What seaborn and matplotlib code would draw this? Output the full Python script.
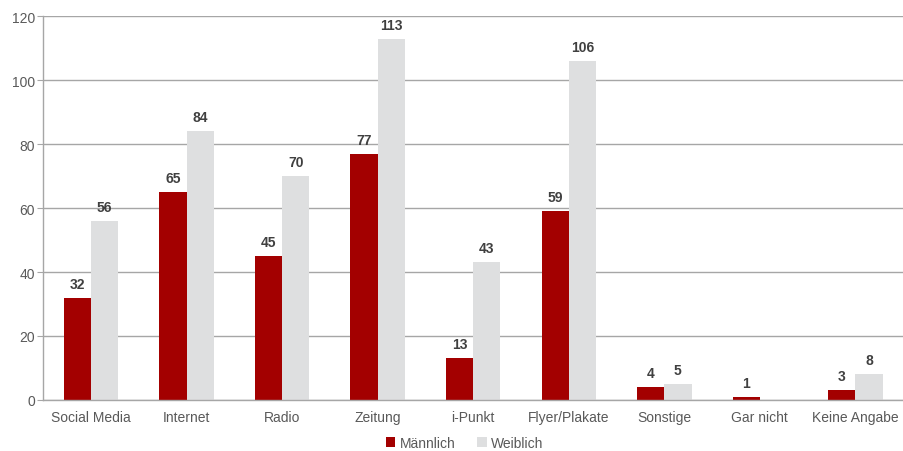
import pandas as pd
import numpy as np
import matplotlib.pyplot as plt
import seaborn as sns

# Daten aus der Grafik
categories = ['Social Media', 'Internet', 'Radio', 'Zeitung', 'i-Punkt',
              'Flyer/Plakate', 'Sonstige', 'Gar nicht', 'Keine Angabe']
maennlich = [32, 65, 45, 77, 13, 59, 4, 1, 3]
weiblich = [56, 84, 70, 113, 43, 106, 5, 0, 8]
series_names = ['Männlich', 'Weiblich']
y_ticks = [0, 20, 40, 60, 80, 100, 120]

RED = '#A30000'
GREY = '#DEDFE0'
TEXT = '#595959'

sns.set_style('white')
plt.rcParams['font.family'] = ['Liberation Sans', 'DejaVu Sans']

df = pd.DataFrame({
    'Kategorie': categories * 2,
    'Geschlecht': [series_names[0]] * len(categories) + [series_names[1]] * len(categories),
    'Wert': maennlich + weiblich,
})

fig = plt.figure(figsize=(9.04, 4.52), dpi=100)
ax = fig.add_axes([0.048, 0.113, 0.951, 0.849])

sns.barplot(data=df, x='Kategorie', y='Wert', hue='Geschlecht',
            palette=[RED, GREY], width=0.57, gap=0, saturation=1,
            edgecolor='none', ax=ax, legend=True)

# Werte über den Balken
for container in ax.containers:
    labels = [f'{int(v)}' if v > 0 else '' for v in container.datavalues]
    ax.bar_label(container, labels=labels, padding=5, fontsize=10,
                 fontweight='bold', color='#404040')

ax.set_xlim(-0.5, len(categories) - 0.5)
ax.set_ylim(0, 120)
ax.set_yticks(y_ticks)
ax.yaxis.grid(True, color='#A6A6A6', linewidth=1)
ax.set_axisbelow(True)

# Teilstriche zwischen den Kategorien
ax.set_xticks(np.arange(-0.5, len(categories), 1.0), minor=True)
ax.tick_params(axis='x', which='major', length=0, pad=7, labelsize=10, labelcolor=TEXT)
ax.tick_params(axis='x', which='minor', length=4, color='#A6A6A6', direction='out')
ax.tick_params(axis='y', length=4, color='#A6A6A6', direction='out', pad=2,
               labelsize=10, labelcolor=TEXT)
ax.tick_params(axis='both', bottom=True, left=True)

for side in ['top', 'right']:
    ax.spines[side].set_visible(False)
for side in ['left', 'bottom']:
    ax.spines[side].set_color('#A6A6A6')
    ax.spines[side].set_linewidth(1)

ax.set_xlabel('')
ax.set_ylabel('')

leg = ax.legend(loc='center', bbox_to_anchor=(0.49, -0.112), ncol=2,
                frameon=False, fontsize=10, handlelength=0.7, handleheight=0.7,
                handletextpad=0.3, columnspacing=1.6, labelcolor=TEXT,
                borderpad=0)

plt.savefig('out.png', dpi=100)
plt.close()
